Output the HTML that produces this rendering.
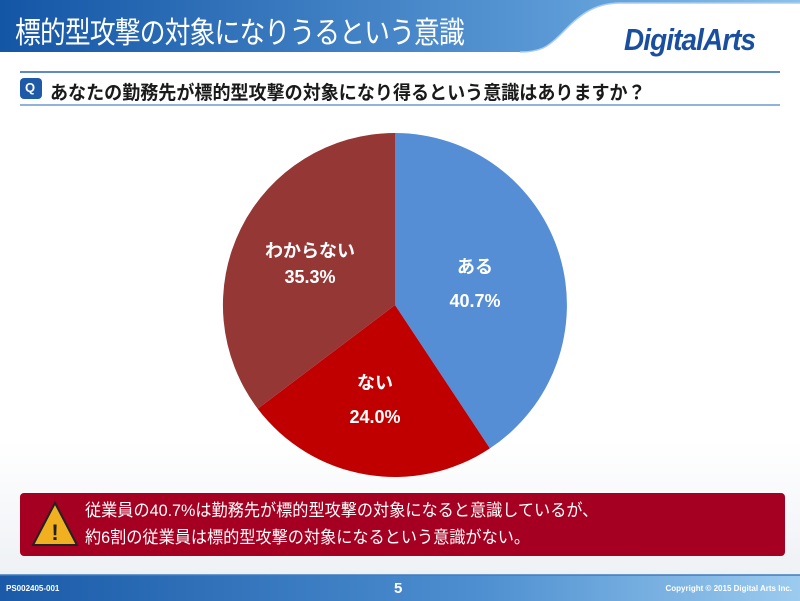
<!DOCTYPE html>
<html><head><meta charset="utf-8"><style>
body{margin:0;width:800px;height:601px;overflow:hidden;background:#fff;font-family:"Liberation Sans","Noto Sans CJK JP",sans-serif;position:relative}
.abs{position:absolute}
</style></head><body>
<svg class="abs" style="left:0;top:0" width="800" height="601">
<defs>
<linearGradient id="hg" x1="0" x2="1"><stop offset="0" stop-color="#1456a6"/><stop offset="0.7" stop-color="#5b9ad6"/><stop offset="1" stop-color="#8cc0ea"/></linearGradient>
<linearGradient id="fg" x1="0" x2="1"><stop offset="0" stop-color="#1a5aa8"/><stop offset="0.6" stop-color="#4d8fd0"/><stop offset="1" stop-color="#9ccbef"/></linearGradient>
<linearGradient id="bg" x1="0" y1="0" x2="0" y2="1"><stop offset="0" stop-color="#fff"/><stop offset="1" stop-color="#eef1f5"/></linearGradient>
</defs>
<rect x="0" y="440" width="800" height="135" fill="url(#bg)"/>
<path d="M0 0 H800 V3 H620 C590 3 575 20 560 35 C548 47 540 52 520 52 H0 Z" fill="url(#hg)"/>
<path d="M520 52 C540 52 548 47 560 35 C575 20 590 3 620 3 H800" fill="none" stroke="#a9cdee" stroke-width="1.5"/>
<line x1="20" y1="72" x2="780" y2="72" stroke="#2a64ad" stroke-width="1.5"/>
<line x1="20" y1="105" x2="780" y2="105" stroke="#8fb3db" stroke-width="2"/>
<rect x="20" y="78" width="22" height="21" rx="4" fill="#1e5aa8"/>
<path d="M395 305 L395 133 A172 172 0 0 1 489.9 448.4 Z" fill="#558ed5"/>
<path d="M395 305 L489.9 448.4 A172 172 0 0 1 257.7 408.7 Z" fill="#c00000"/>
<path d="M395 305 L257.7 408.7 A172 172 0 0 1 395 133 Z" fill="#953735"/>
<rect x="20" y="493" width="765" height="63" rx="4" fill="#a50021"/>
<polygon points="55,503 77,545 33,545" fill="#f0b020" stroke="#222" stroke-width="2"/>
<text x="55" y="540" text-anchor="middle" font-size="22" font-weight="bold" fill="#222">!</text>
<rect x="0" y="575" width="800" height="26" fill="url(#fg)"/>
<line x1="0" y1="575" x2="800" y2="575" stroke="#3f7cc0" stroke-width="1.5"/>
</svg>
<div class="abs" style="left:15px;top:8px;font-size:30px;color:#fff;white-space:nowrap;letter-spacing:-1px;transform:scaleX(0.86);transform-origin:0 0">標的型攻撃の対象になりうるという意識</div>
<div class="abs" style="left:624px;top:22px;font-size:31px;font-style:italic;font-weight:bold;color:#1a4fa0;letter-spacing:-1px;transform:scaleX(0.9);transform-origin:0 0">Digital<span>Arts</span></div>
<div class="abs" style="left:25px;top:80px;font-size:13px;font-weight:bold;color:#fff">Q</div>
<div class="abs" style="left:50px;top:78px;font-size:19px;font-weight:bold;color:#1a1a1a;white-space:nowrap;transform:scaleX(0.95);transform-origin:0 0">あなたの勤務先が標的型攻撃の対象になり得るという意識はありますか？</div>
<div class="abs" style="left:430px;top:250px;width:90px;text-align:center;color:#fff;font-weight:bold;font-size:18px;line-height:34px">ある<br>40.7%</div>
<div class="abs" style="left:330px;top:366px;width:90px;text-align:center;color:#fff;font-weight:bold;font-size:18px;line-height:34px">ない<br>24.0%</div>
<div class="abs" style="left:250px;top:238px;width:120px;text-align:center;color:#fff;font-weight:bold;font-size:18px;line-height:26px">わからない<br>35.3%</div>
<div class="abs" style="left:85px;top:497px;color:#fff;font-size:17px;line-height:27px;white-space:nowrap;transform:scaleX(0.95);transform-origin:0 0">従業員の40.7%は勤務先が標的型攻撃の対象になると意識しているが、<br>約6割の従業員は標的型攻撃の対象になるという意識がない。</div>
<div class="abs" style="left:6px;top:584px;color:#fff;font-size:8px;font-weight:bold">PS002405-001</div>
<div class="abs" style="left:394px;top:580px;color:#fff;font-size:15px;font-weight:bold">5</div>
<div class="abs" style="right:8px;top:584px;color:#fff;font-size:8px;font-weight:bold">Copyright © 2015 Digital Arts Inc.</div>
</body></html>
